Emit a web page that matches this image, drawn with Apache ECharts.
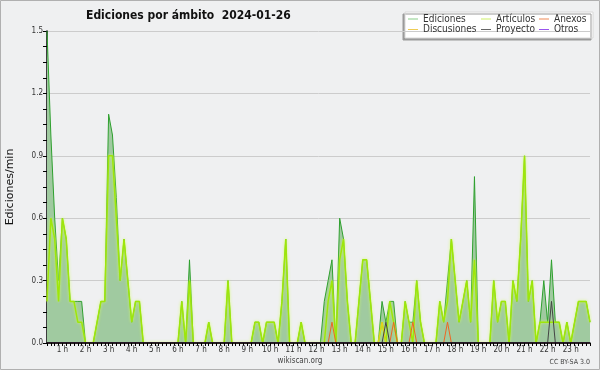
<!DOCTYPE html>
<html><head><meta charset="utf-8">
<script src="https://cdn.jsdelivr.net/npm/echarts@6/dist/echarts.min.js"></script>
<style>html,body{margin:0;padding:0;background:#eff0f1}#c{width:600px;height:370px}</style>
</head><body><div id="c"></div>
<script>
// 10-minute slots starting at 00:20
const startMinute = 20, slotMinutes = 10, slotCount = 142;
const times = [];
for (let i = 0; i < slotCount; i++) {
  const m = startMinute + slotMinutes * i;
  times.push(String(Math.floor(m / 60)).padStart(2, '0') + ':' + String(m % 60).padStart(2, '0'));
}
const hourLabels = ['1 h','2 h','3 h','4 h','5 h','6 h','7 h','8 h','9 h','10 h','11 h','12 h','13 h','14 h','15 h','16 h','17 h','18 h','19 h','20 h','21 h','22 h','23 h'];
const yTicks = [0, 0.3, 0.6, 0.9, 1.2, 1.5];

const ediciones = [
 1.5,1.0,0.6,0.3,0.6,0.5,0.2,0.2,0.2,0.2,0,0,
 0,0.1,0.2,0.2,1.1,1.0,0.7,0.3,0.5,0.3,0.1,0.2,
 0.2,0,0,0,0,0,0,0,0,0,0,0.2,
 0,0.4,0,0,0,0,0.1,0,0,0,0,0.3,
 0,0,0,0,0,0,0.1,0.1,0,0.1,0.1,0.1,
 0,0.2,0.5,0,0,0,0.1,0,0,0,0,0,
 0.2,0.3,0.4,0,0.6,0.5,0.2,0,0,0.2,0.4,0.4,
 0.2,0,0,0.2,0.1,0.2,0.2,0,0,0.2,0.1,0.1,
 0.3,0.1,0,0,0,0,0.2,0.1,0.3,0.5,0.3,0.1,
 0.2,0.3,0.1,0.8,0,0,0,0,0.3,0.1,0.2,0.2,
 0,0.3,0.2,0.5,0.9,0.2,0.3,0,0.1,0.3,0.1,0.4,
 0.1,0.1,0,0.1,0,0.1,0.2,0.2,0.2,0.1
];
const articulos = [
 0.2,0.6,0.5,0.2,0.6,0.5,0.2,0.2,0.1,0.1,0,0,
 0,0.1,0.2,0.2,0.9,0.9,0.6,0.3,0.5,0.3,0.1,0.2,
 0.2,0,0,0,0,0,0,0,0,0,0,0.2,
 0,0.3,0,0,0,0,0.1,0,0,0,0,0.3,
 0,0,0,0,0,0,0.1,0.1,0,0.1,0.1,0.1,
 0,0.2,0.5,0,0,0,0.1,0,0,0,0,0,
 0,0.2,0.3,0,0.4,0.5,0.2,0,0,0.2,0.4,0.4,
 0.2,0,0,0.1,0,0.2,0.1,0,0,0.2,0.1,0,
 0.3,0.1,0,0,0,0,0.2,0.1,0.2,0.5,0.3,0.1,
 0.2,0.3,0.1,0.4,0,0,0,0,0.3,0.1,0.2,0.2,
 0,0.3,0.2,0.5,0.9,0.2,0.3,0,0.1,0.1,0.1,0.1,
 0.1,0.1,0,0.1,0,0.1,0.2,0.2,0.2,0.1
];
const anexos = [
 0,0,0,0,0,0,0,0,0,0,0,0,
 0,0,0,0,0,0,0,0,0,0,0,0,
 0,0,0,0,0,0,0,0,0,0,0,0,
 0,0,0,0,0,0,0,0,0,0,0,0,
 0,0,0,0,0,0,0,0,0,0,0,0,
 0,0,0,0,0,0,0,0,0,0,0,0,
 0,0,0.1,0,0,0,0,0,0,0,0,0,
 0,0,0,0,0,0,0.1,0,0,0,0,0.1,
 0,0,0,0,0,0,0,0,0.1,0,0,0,
 0,0,0,0,0,0,0,0,0,0,0,0,
 0,0,0,0,0,0,0,0,0,0,0,0,
 0,0,0,0,0,0,0,0,0,0
];
const discusiones = [
 0,0,0,0,0,0,0,0,0,0,0,0,
 0,0,0,0,0,0,0,0,0,0,0,0,
 0,0,0,0,0,0,0,0,0,0,0,0,
 0,0,0,0,0,0,0,0,0,0,0,0,
 0,0,0,0,0,0,0,0,0,0,0,0,
 0,0,0,0,0,0,0,0,0,0,0,0,
 0,0,0,0,0,0,0,0,0,0,0,0,
 0,0,0,0.1,0,0,0,0,0,0,0,0,
 0,0,0,0,0,0,0,0,0,0,0,0,
 0,0,0,0,0,0,0,0,0,0,0,0,
 0,0,0,0,0,0,0,0,0,0,0,0,
 0,0,0,0,0,0,0,0,0,0
];
const proyecto = [
 0,0,0,0,0,0,0,0,0,0,0,0,
 0,0,0,0,0,0,0,0,0,0,0,0,
 0,0,0,0,0,0,0,0,0,0,0,0,
 0,0,0,0,0,0,0,0,0,0,0,0,
 0,0,0,0,0,0,0,0,0,0,0,0,
 0,0,0,0,0,0,0,0,0,0,0,0,
 0,0,0,0,0,0,0,0,0,0,0,0,
 0,0,0,0,0.1,0,0,0,0,0,0,0,
 0,0,0,0,0,0,0,0,0,0,0,0,
 0,0,0,0,0,0,0,0,0,0,0,0,
 0,0,0,0,0,0,0,0,0,0,0,0.2,
 0,0,0,0,0,0,0,0,0,0
];
const otros = [
 0,0,0,0,0,0,0,0,0,0,0,0,
 0,0,0,0,0,0,0,0,0,0,0,0,
 0,0,0,0,0,0,0,0,0,0,0,0,
 0,0,0,0,0,0,0,0,0,0,0,0,
 0,0,0,0,0,0,0,0,0,0,0,0,
 0,0,0,0,0,0,0,0,0,0,0,0,
 0,0,0,0,0,0,0,0,0,0,0,0,
 0,0,0,0,0,0,0,0,0,0,0,0,
 0,0,0,0,0,0,0,0,0,0,0,0,
 0,0,0,0,0,0,0,0,0,0,0,0,
 0,0,0,0,0,0,0,0,0,0,0,0,
 0,0,0,0,0,0,0,0,0,0
];

const FONT = 'DejaVu Sans Condensed, DejaVu Sans, sans-serif';
const legendCols = {
  'Ediciones': '#88cc88', 'Discusiones': '#eecc55',
  'Artículos': '#ccee66', 'Proyecto': '#666666',
  'Anexos': '#ee8855', 'Otros': '#9955ee'
};
function leg(names, left) {
  return {
    orient: 'vertical', left: left, top: 14, itemWidth: 10, itemHeight: 1, itemGap: 0.5,
    icon: 'rect', padding: 0, selectedMode: false,
    textStyle: { fontSize: 10, fontFamily: FONT, color: '#333', lineHeight: 10 },
    data: names.map(n => ({ name: n, itemStyle: { color: legendCols[n] } }))
  };
}
function minor(name, data, color) {
  return { name, type: 'line', data, symbol: 'none', z: 4,
    lineStyle: { color, width: 1 }, itemStyle: { color } };
}

const chart = echarts.init(document.getElementById('c'), null, { renderer: 'canvas' });
chart.setOption({
  backgroundColor: '#eff0f1',
  animation: false,
  title: { text: 'Ediciones por ámbito  2024-01-26', left: 86, top: 10, padding: 0,
    textStyle: { fontSize: 12, fontWeight: 'bold', fontFamily: FONT, color: '#111' } },
  legend: [leg(['Ediciones','Discusiones'], 408), leg(['Artículos','Proyecto'], 481), leg(['Anexos','Otros'], 539)],
  grid: { left: 47, right: 10, top: 31, bottom: 27, containLabel: false, outerBoundsMode: 'none' },
  xAxis: {
    type: 'category', data: times, boundaryGap: false, z: 6,
    axisLine: { lineStyle: { color: '#000', width: 1.5 } },
    axisTick: { interval: 0, length: 3, lineStyle: { color: '#000' } },
    axisLabel: { interval: (i, v) => v.endsWith(':00'), formatter: v => hourLabels[parseInt(v, 10) - 1],
      fontSize: 8, fontFamily: FONT, color: '#333', margin: 3 },
    splitLine: { show: false }
  },
  yAxis: {
    type: 'value', min: yTicks[0], max: yTicks[yTicks.length - 1], interval: yTicks[1] - yTicks[0],
    name: 'Ediciones/min', nameLocation: 'middle', nameGap: 31, nameRotate: 90,
    nameTextStyle: { fontSize: 11, fontFamily: 'DejaVu Sans, sans-serif', color: '#111' },
    axisLine: { show: true, lineStyle: { color: '#000', width: 1.5 } },
    axisTick: { show: true, length: 4, lineStyle: { color: '#000' } },
    minorTick: { show: true, splitNumber: 4, length: 4, lineStyle: { color: '#000' } },
    axisLabel: { formatter: v => v.toFixed(1), fontSize: 8, fontFamily: FONT, color: '#333', margin: 4 },
    splitLine: { lineStyle: { color: '#cccccc', width: 1 } }
  },
  series: [
    { name: 'Ediciones', type: 'line', data: ediciones, symbol: 'none', z: 2,
      lineStyle: { color: '#2ea02e', width: 1 }, itemStyle: { color: '#2ea02e' },
      areaStyle: { color: '#a0caa0', opacity: 1 } },
    { name: 'Artículos', type: 'line', data: articulos, symbol: 'none', z: 3,
      lineStyle: { color: '#9ee60a', width: 1.5, shadowColor: 'rgba(210,255,90,0.9)', shadowBlur: 3 },
      itemStyle: { color: '#9ee60a' } },
    minor('Discusiones', discusiones, '#eecc22'),
    minor('Anexos', anexos, '#ee6622'),
    minor('Proyecto', proyecto, '#444444'),
    minor('Otros', otros, '#9955ee')
  ],
  graphic: [
    { type: 'rect', z: -1, silent: true, shape: { x: 0.5, y: 0.5, width: 599, height: 369 },
      style: { fill: null, stroke: '#b0b0b0', lineWidth: 1 } },
    { type: 'rect', z: 0, silent: true, shape: { x: 405, y: 12, width: 188, height: 26 },
      style: { fill: '#ffffff', stroke: '#d8d8d8', lineWidth: 1,
        shadowColor: '#9a9a9a', shadowOffsetX: -2, shadowOffsetY: 2, shadowBlur: 0 } },
    { type: 'text', silent: true, x: 300, y: 361,
      style: { text: 'wikiscan.org', fontSize: 8, fontFamily: FONT, fill: '#444', align: 'center', verticalAlign: 'middle' } },
    { type: 'text', silent: true, x: 590, y: 362,
      style: { text: 'CC BY-SA 3.0', fontSize: 7, fontFamily: FONT, fill: '#444', align: 'right', verticalAlign: 'middle' } }
  ]
});
</script></body></html>
